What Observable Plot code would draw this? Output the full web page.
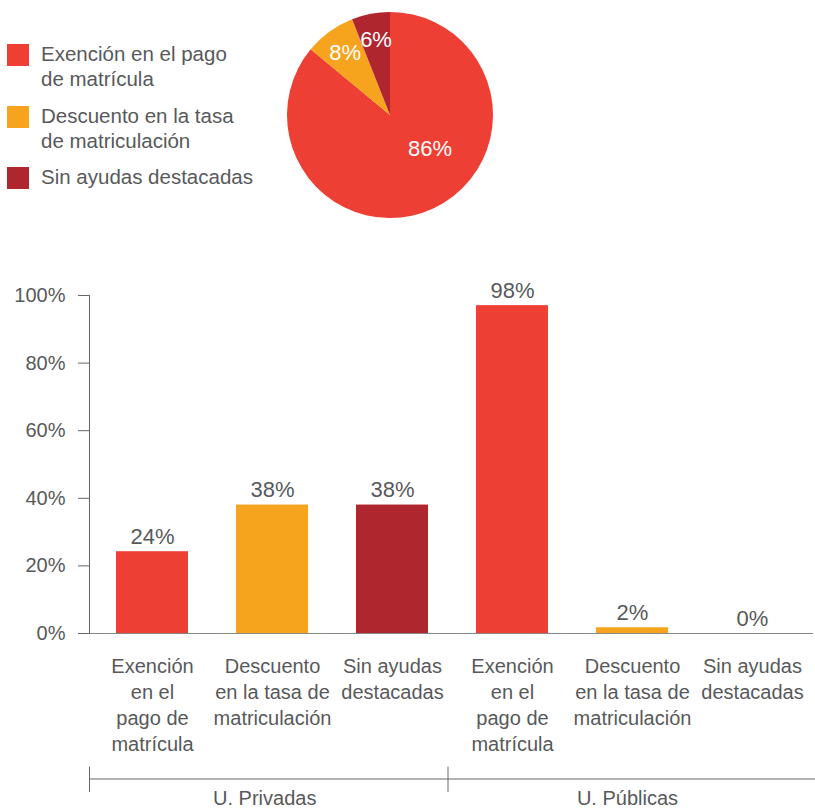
<!DOCTYPE html>
<html>
<head>
<meta charset="utf-8">
<script src="https://cdn.jsdelivr.net/npm/d3@7"></script>
<script src="https://cdn.jsdelivr.net/npm/@observablehq/plot@0.6"></script>
<style>
  html, body { margin: 0; padding: 0; background: #fff; }
  #chart { position: relative; width: 815px; height: 809px; overflow: hidden; font-family: "Liberation Sans", Arial, sans-serif; color: #58595b; }
  #legend { position: absolute; left: 0; top: 0; }
  .item { position: absolute; left: 7px; white-space: nowrap; }
  .sw { position: absolute; left: 0; width: 22px; height: 22px; }
  .lt { position: absolute; left: 34px; font-size: 20.5px; line-height: 25px; }
  #pie { position: absolute; left: 275px; top: 0px; }
  #bars { position: absolute; left: 0; top: 240px; }
</style>
</head>
<body>
<div id="chart">
  <div id="legend"></div>
  <div id="pie"></div>
  <div id="bars"></div>
</div>
<script>
// ---- data ----
const categories = ["Exención en el pago de matrícula", "Descuento en la tasa de matriculación", "Sin ayudas destacadas"];
const legendLines = [["Exención en el pago", "de matrícula"], ["Descuento en la tasa", "de matriculación"], ["Sin ayudas destacadas"]];
const axisLines = ["Exención\nen el\npago de\nmatrícula", "Descuento\nen la tasa de\nmatriculación", "Sin ayudas\ndestacadas"];
const colors = ["#ee3f35", "#f6a31e", "#b0262f"];
const piePercents = [86, 8, 6];
const pieLabels = ["86%", "8%", "6%"];
const groups = ["U. Privadas", "U. Públicas"];
const privadasValues = [24.2, 38, 38];
const publicasValues = [97, 1.7, 0];
const privadasLabels = ["24%", "38%", "38%"];
const publicasLabels = ["98%", "2%", "0%"];
const yTicks = [0, 20, 40, 60, 80, 100];

const textColor = "#58595b";
const font = "'Liberation Sans', Arial, sans-serif";

// ---- legend (HTML) ----
const legendTops = [41, 102.5, 164];
const legend = document.getElementById("legend");
categories.forEach((c, i) => {
  const item = document.createElement("div");
  item.className = "item";
  item.style.top = legendTops[i] + "px";
  const sw = document.createElement("div");
  sw.className = "sw";
  sw.style.background = colors[i];
  sw.style.top = "3px";
  const lt = document.createElement("div");
  lt.className = "lt";
  lt.innerHTML = legendLines[i].join("<br>");
  item.appendChild(sw);
  item.appendChild(lt);
  legend.appendChild(item);
});

// ---- pie ----
const pieData = categories.map((c, i) => ({cat: c, value: piePercents[i], label: pieLabels[i]}));
const total = d3.sum(pieData, d => d.value);
let acc = 0;
pieData.forEach(d => {
  const a0 = acc / total * 2 * Math.PI;
  acc += d.value;
  const a1 = acc / total * 2 * Math.PI;
  const big = d.value / total > 0.5;
  const mid = big ? a0 + (a1 - a0) * 0.42 : (a0 + a1) / 2;
  const rr = big ? 0.5 : 0.75;
  d.lx = rr * Math.sin(mid);
  d.ly = rr * Math.cos(mid);
});
const R = 1.1165;
const piePlot = Plot.plot({
  width: 230, height: 230,
  margin: 0,
  x: {domain: [-R, R], axis: null},
  y: {domain: [-R, R], axis: null},
  style: {background: "transparent", overflow: "visible", fontFamily: font},
  marks: [
    (index, scales, values, dimensions) => {
      const cx = scales.x(0), cy = scales.y(0), r = scales.x(1) - scales.x(0);
      const arcs = d3.pie().sort(null).value(d => d.value)(pieData);
      const arc = d3.arc().innerRadius(0).outerRadius(r);
      const g = d3.create("svg:g").attr("transform", `translate(${cx},${cy})`);
      g.selectAll("path").data(arcs).join("path")
        .attr("d", arc)
        .attr("fill", (d, i) => colors[i]);
      return g.node();
    },
    Plot.text(pieData, {x: "lx", y: "ly", text: "label", fill: "white", fontSize: 22})
  ]
});
document.getElementById("pie").appendChild(piePlot);

// ---- bars ----
const barData = groups.flatMap((g, gi) => categories.map((c, ci) => ({
  key: g + "|" + c,
  group: g,
  cat: c,
  value: (gi === 0 ? privadasValues : publicasValues)[ci],
  label: (gi === 0 ? privadasLabels : publicasLabels)[ci],
  axis: axisLines[ci]
})));

const barPlot = Plot.plot({
  width: 815,
  height: 569,
  marginTop: 55,
  marginBottom: 176,
  marginLeft: 90,
  marginRight: 2,
  style: {background: "transparent", overflow: "visible", fontFamily: font, color: textColor},
  x: {domain: barData.map(d => d.key), paddingInner: 0.4, paddingOuter: 0.2, axis: null},
  y: {domain: [0, 100], axis: null},
  color: {domain: categories, range: colors},
  marks: [
    Plot.axisY({ticks: yTicks, tickFormat: d => d + "%", tickSize: 12, tickPadding: 13, fontSize: 20, stroke: "#666", fill: textColor, label: null}),
    Plot.barY(barData, {x: "key", y: "value", fill: "cat"}),
    Plot.ruleY([0], {stroke: "#888", strokeWidth: 1.2}),
    (index, scales, values, dimensions) => {
      const x0 = dimensions.marginLeft - 0.5;
      return d3.create("svg:line")
        .attr("x1", x0).attr("x2", x0)
        .attr("y1", scales.y(100)).attr("y2", scales.y(0))
        .attr("stroke", "#666").node();
    },
    Plot.text(barData, {x: "key", y: "value", text: "label", dy: -8, lineAnchor: "bottom", fontSize: 22, fill: textColor}),
    Plot.text(barData, {x: "key", frameAnchor: "bottom", text: "axis", lineAnchor: "top", dy: 21, lineHeight: 1.3, fontSize: 20, fill: textColor}),
    (index, scales, values, dimensions) => {
      const x = scales.x;
      const bw = x.bandwidth();
      const keys = barData.map(d => d.key);
      const y0 = dimensions.height - dimensions.marginBottom;
      const yl = y0 + 146;
      const starts = groups.map((g, gi) => {
        const k = keys.filter((_, i) => barData[i].group === g);
        return {g, first: k[0], last: k[k.length - 1]};
      });
      const boundaries = [dimensions.marginLeft - 0.5];
      for (let i = 1; i < starts.length; i++) {
        boundaries.push((x(starts[i - 1].last) + bw + x(starts[i].first)) / 2 - 4);
      }
      boundaries.push(dimensions.width);
      const g = d3.create("svg:g");
      g.append("line").attr("x1", boundaries[0]).attr("x2", boundaries[boundaries.length - 1])
        .attr("y1", yl).attr("y2", yl).attr("stroke", "#666");
      boundaries.slice(0, -1).forEach(b => {
        g.append("line").attr("x1", b).attr("x2", b).attr("y1", yl - 12.5).attr("y2", yl + 13).attr("stroke", "#666");
      });
      starts.forEach((s, i) => {
        g.append("text")
          .attr("x", (boundaries[i] + boundaries[i + 1]) / 2 - 4)
          .attr("y", yl + 26)
          .attr("text-anchor", "middle")
          .attr("font-size", 20)
          .attr("fill", textColor)
          .text(s.g);
      });
      return g.node();
    }
  ]
});
document.getElementById("bars").appendChild(barPlot);
</script>
</body>
</html>
